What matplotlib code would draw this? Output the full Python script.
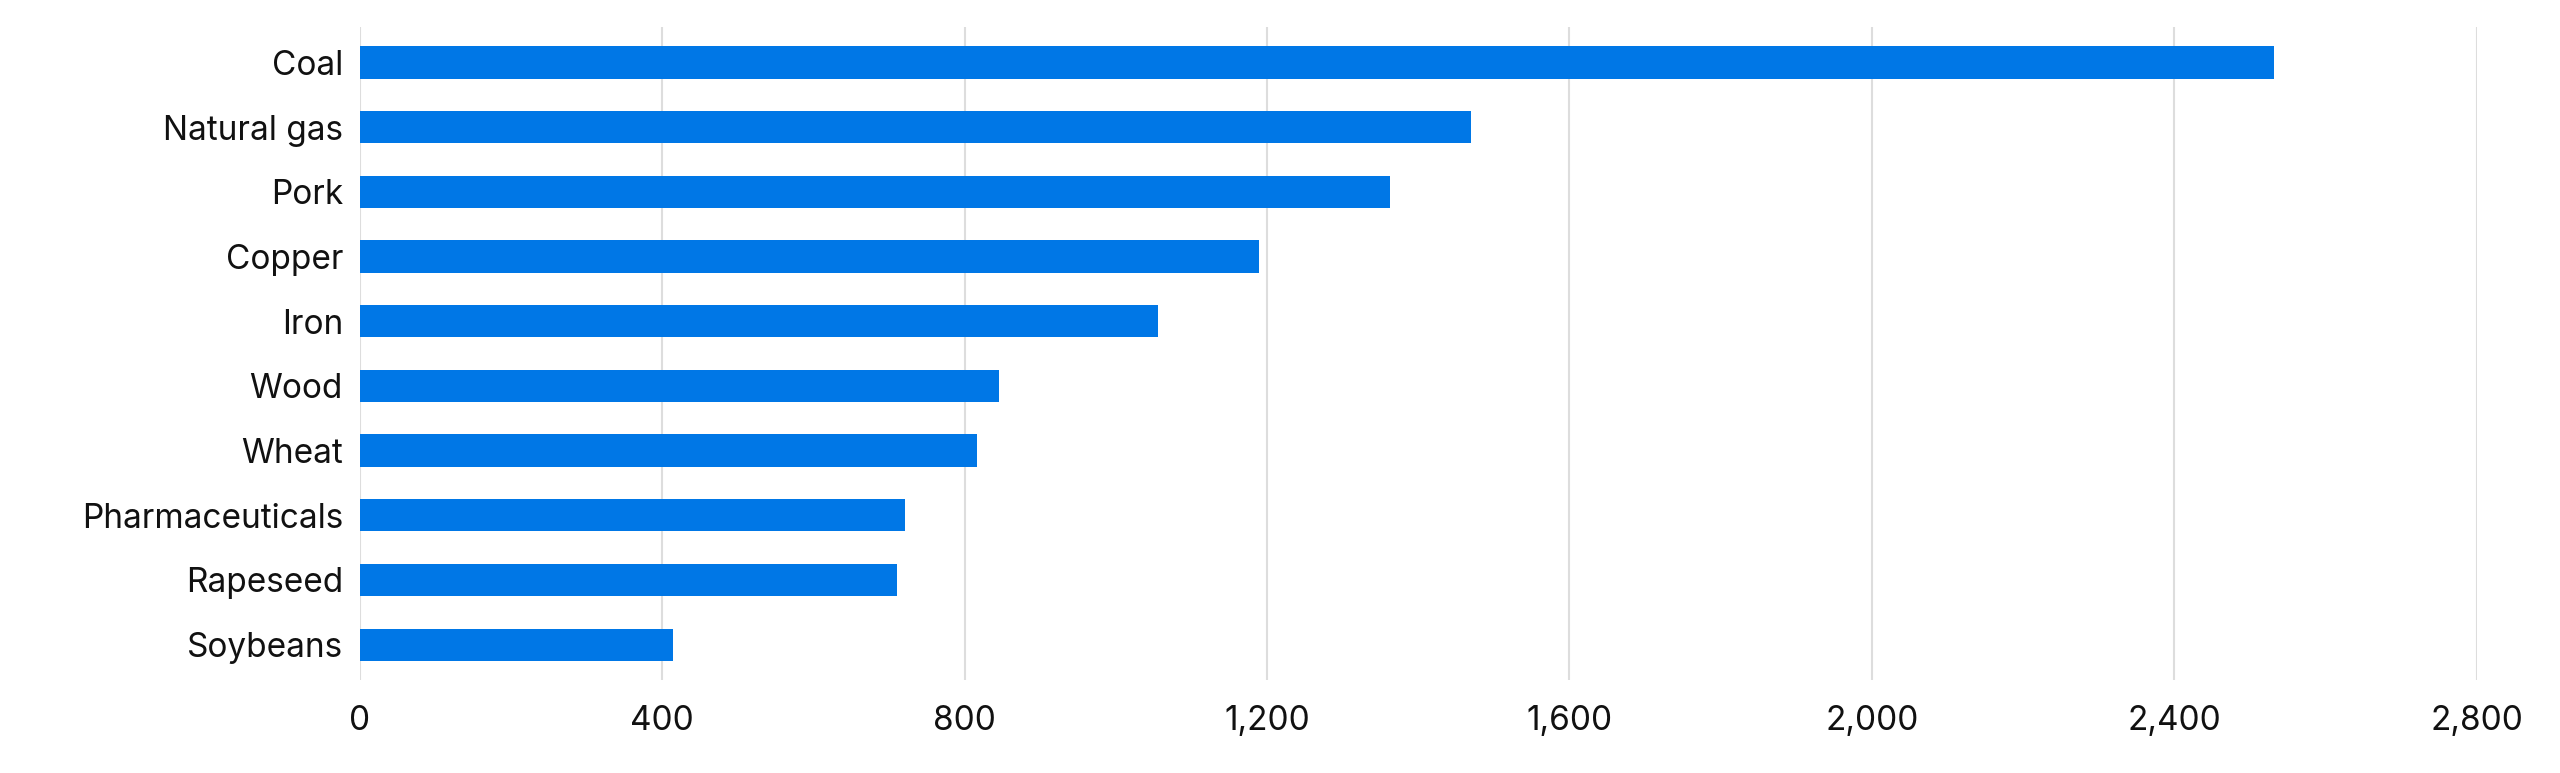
import matplotlib
matplotlib.use("Agg")
import matplotlib.pyplot as plt

categories = ["Coal", "Natural gas", "Pork", "Copper", "Iron", "Wood", "Wheat",
              "Pharmaceuticals", "Rapeseed", "Soybeans"]
values = [2532, 1470, 1362, 1190, 1056, 846, 816, 721, 710, 415]
ticks = [0, 400, 800, 1200, 1600, 2000, 2400, 2800]

plt.rcParams['font.family'] = ['Inter', 'DejaVu Sans']
fig = plt.figure(figsize=(25.6, 7.73), dpi=100)
ax = fig.add_axes([0.1405, 0.12, 0.827, 0.845])
y = list(range(len(categories)))
ax.barh(y, values, height=0.5, color="#0077E6", zorder=3)
ax.set_ylim(len(categories) - 0.45, -0.55)
ax.set_yticks(y)
ax.set_yticklabels(categories, fontsize=24, color="#111111")
ax.set_xlim(0, 2800)
ax.set_xticks(ticks)
ax.set_xticklabels([f"{t:,}" for t in ticks], fontsize=24, color="#111111")
ax.grid(axis="x", color="#dddddd", linewidth=1.5, zorder=0)
for s in ax.spines.values():
    s.set_visible(False)
ax.tick_params(length=0, pad=12)
ax.tick_params(axis="x", pad=18)
fig.savefig("out.png", dpi=100)
